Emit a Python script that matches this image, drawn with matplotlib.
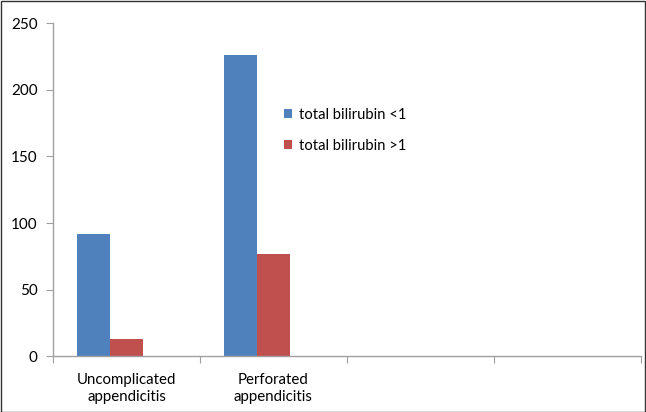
import numpy as np
import matplotlib.pyplot as plt
from matplotlib.patches import Rectangle

categories = ["Uncomplicated\nappendicitis", "Perforated\nappendicitis", "", ""]
bili_low = [92, 226]
bili_high = [13, 77]
series_names = ["total bilirubin <1", "total bilirubin >1"]
colors = ["#4F81BD", "#C0504D"]

plt.rcParams['font.family'] = ['Lato', 'DejaVu Sans']

fig = plt.figure(figsize=(6.46, 4.12), dpi=100)
ax = fig.add_axes([0.082, 0.135, 0.91, 0.809])

# three series slots per category, gap width 150%
w = 1 / 4.5
x = np.arange(len(bili_low))
b1 = ax.bar(x - w, bili_low, width=w, align="center", color=colors[0], edgecolor="none")
b2 = ax.bar(x, bili_high, width=w, align="center", color=colors[1], edgecolor="none")

ax.set_xlim(-0.5, len(categories) - 0.5)
ax.set_ylim(0, 250)
ax.set_yticks(range(0, 251, 50))
ax.set_xticks(np.arange(len(categories) + 1) - 0.5)
ax.set_xticklabels([])
ax.set_xticks(np.arange(len(categories)), minor=True)
ax.set_xticklabels(categories, minor=True, fontsize=10.8, linespacing=1.3)
ax.tick_params(axis="x", which="minor", length=0, pad=12)
ax.tick_params(axis="x", which="major", length=5, color="#a0a0a0", direction="out")
ax.tick_params(axis="y", length=5, color="#a0a0a0", labelsize=11, pad=6)

for s in ["top", "right"]:
    ax.spines[s].set_visible(False)
for s in ["left", "bottom"]:
    ax.spines[s].set_color("#a0a0a0")
    ax.spines[s].set_linewidth(1.0)

ax.legend([b1, b2], series_names, loc="upper left", bbox_to_anchor=(0.37, 0.785),
          frameon=False, fontsize=10.6, handlelength=0.55, handleheight=0.55,
          handletextpad=0.5, labelspacing=1.15)

fig.patches.append(Rectangle((0.001, 0.001), 0.997, 0.997, transform=fig.transFigure,
                             fill=False, edgecolor="#333333", linewidth=1.0))

fig.savefig("out.png", dpi=100)
